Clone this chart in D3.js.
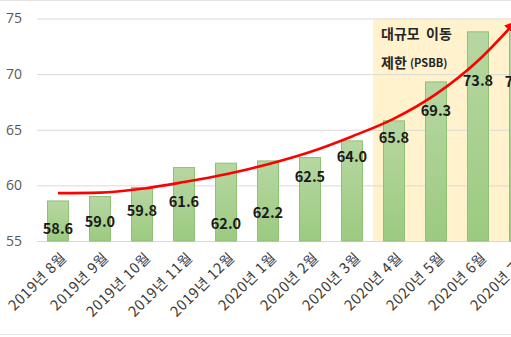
<!DOCTYPE html>
<html>
<head>
<meta charset="utf-8">
<script src="https://cdn.jsdelivr.net/npm/d3@7"></script>
<style>
  html, body { margin: 0; padding: 0; background: #fff; overflow: hidden; }
  svg { display: block; font-family: "Noto Sans CJK KR", "Noto Sans", sans-serif; }
</style>
</head>
<body>
<svg id="chart" width="511" height="337"></svg>
<script>
// Monthly values, Aug 2019 – Jul 2020
const months = ["2019년 8월", "2019년 9월", "2019년 10월", "2019년 11월", "2019년 12월",
  "2020년 1월", "2020년 2월", "2020년 3월", "2020년 4월", "2020년 5월", "2020년 6월", "2020년 7월"];
const values = [58.6, 59.0, 59.8, 61.6, 62.0, 62.2, 62.5, 64.0, 65.8, 69.3, 73.8, 73.7];

// Smoothed upward trend (category index -> value)
const trendIndex = [0, 1, 2, 3, 4, 5, 6, 7, 8, 9, 10, 10.82];
const trendValues = [59.3, 59.35, 59.7, 60.3, 61.0, 61.9, 63.0, 64.4, 66.0, 68.2, 71.2, 74.4];

// Y axis ticks
const yTicks = [55, 60, 65, 70, 75];

// Months covered by large-scale social restrictions (PSBB)
const restrictedFrom = "2020년 4월";
const noteLines = ["대규모 이동", "제한"];
const noteTag = "(PSBB)";

// Value labels sit this many pixels below each bar top
const labelDrop = [27, 24, 22, 33, 59, 51, 18, 15, 16, 28, 48, 48];

const svg = d3.select("#chart");

const x = d3.scaleBand()
  .domain(months)
  .range([37, 541])
  .paddingInner(0.476)
  .paddingOuter(0.238);

const y = d3.scaleLinear().domain([55, 75]).range([241, 18.5]);

// chart frame lines
svg.append("line").attr("x1", 0).attr("x2", 511).attr("y1", 0.5).attr("y2", 0.5)
  .attr("stroke", "#e3e3e3");
svg.append("line").attr("x1", 0).attr("x2", 511).attr("y1", 334.5).attr("y2", 334.5)
  .attr("stroke", "#e3e3e3");

// shaded PSBB period
const shadeX = x(restrictedFrom) - (x.step() - x.bandwidth()) / 2;
svg.append("rect")
  .attr("x", shadeX)
  .attr("y", y(75) + 1)
  .attr("width", 541 - shadeX)
  .attr("height", y(55) - y(75) - 1)
  .attr("fill", "#fff2cc");

// gridlines and y labels
const yAxis = d3.axisLeft(y).tickValues(yTicks).tickSize(-(511 - 37)).tickPadding(15);
const gy = svg.append("g").attr("transform", "translate(37,0)").call(yAxis);
gy.select(".domain").remove();
gy.selectAll(".tick line").attr("stroke", "#d9d9d9").attr("stroke-width", 1);
gy.selectAll(".tick text")
  .attr("fill", "#595959")
  .attr("font-size", 14)
  .attr("font-family", "'Open Sans', 'Noto Sans', sans-serif");

// bar gradient
const defs = svg.append("defs");
const grad = defs.append("linearGradient").attr("id", "barFill")
  .attr("x1", 0).attr("x2", 0).attr("y1", 0).attr("y2", 1);
grad.append("stop").attr("offset", "0%").attr("stop-color", "#b7d7a2");
grad.append("stop").attr("offset", "100%").attr("stop-color", "#9cca80");

defs.append("marker")
  .attr("id", "arrow")
  .attr("viewBox", "0 0 10 10")
  .attr("refX", 5).attr("refY", 5)
  .attr("markerWidth", 4.5).attr("markerHeight", 4.5)
  .attr("orient", "auto")
  .append("path")
  .attr("d", "M0,0 L10,5 L0,10 Z")
  .attr("fill", "#ff0000");

// bars
svg.append("g").selectAll("rect")
  .data(values)
  .join("rect")
  .attr("x", (d, i) => x(months[i]) + 0.5)
  .attr("y", d => y(d))
  .attr("width", x.bandwidth() - 1)
  .attr("height", d => y(55) - y(d))
  .attr("fill", "url(#barFill)")
  .attr("stroke", "#8fc173")
  .attr("stroke-width", 1);

// x labels, rotated
svg.append("g").selectAll("text")
  .data(months)
  .join("text")
  .attr("transform", d => `translate(${x(d) + x.bandwidth() / 2 + 5},${254}) rotate(-45)`)
  .attr("text-anchor", "end")
  .attr("dominant-baseline", "central")
  .attr("font-size", 14.5)
  .attr("letter-spacing", 0.6)
  .attr("fill", "#3a3a3a")
  .text(d => d);

// value labels
svg.append("g").selectAll("text")
  .data(values)
  .join("text")
  .attr("x", (d, i) => x(months[i]) + x.bandwidth() / 2)
  .attr("y", (d, i) => y(d) + labelDrop[i])
  .attr("text-anchor", "middle")
  .attr("dominant-baseline", "central")
  .attr("font-size", 14.5)
  .attr("font-weight", "bold")
  .attr("fill", "#1a1a1a")
  .text(d => d.toFixed(1));

// trend line with arrow head
const xi = i => x(months[0]) + x.bandwidth() / 2 + i * x.step();
const line = d3.line()
  .x(d => xi(d[0]))
  .y(d => y(d[1]))
  .curve(d3.curveMonotoneX);
svg.append("path")
  .datum(trendIndex.map((t, i) => [t, trendValues[i]]))
  .attr("d", line)
  .attr("fill", "none")
  .attr("stroke", "#ff0000")
  .attr("stroke-width", 2.6)
  .attr("marker-end", "url(#arrow)");

// PSBB note
const note = svg.append("g").attr("font-weight", "bold").attr("fill", "#262626");
note.append("text")
  .attr("x", shadeX + 8).attr("y", 33)
  .attr("dominant-baseline", "central")
  .attr("font-size", 14)
  .attr("xml:space", "preserve")
  .text(noteLines[0].replace(" ", "  "));
const l2 = note.append("text")
  .attr("x", shadeX + 8).attr("y", 62)
  .attr("dominant-baseline", "central")
  .attr("font-size", 14);
l2.append("tspan").text(noteLines[1] + " ");
l2.append("tspan").attr("font-size", 11).text(noteTag);
</script>
</body>
</html>
